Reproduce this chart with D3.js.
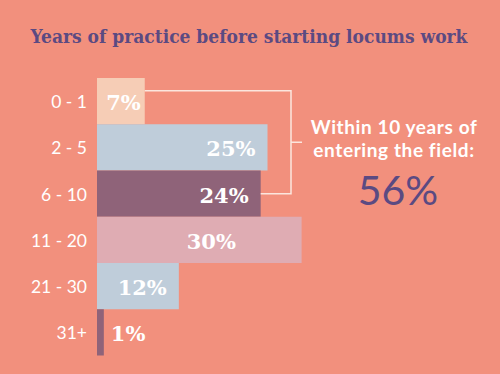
<!DOCTYPE html>
<html>
<head>
<meta charset="utf-8">
<script src="https://cdn.jsdelivr.net/npm/d3@7"></script>
<style>
  html, body { margin: 0; padding: 0; background: #F2907D; }
  svg { display: block; }
</style>
</head>
<body>
<svg id="viz" width="500" height="374"></svg>
<script>
// ----- data -----
const categories = ["0 - 1", "2 - 5", "6 - 10", "11 - 20", "21 - 30", "31+"];
const values     = [7, 25, 24, 30, 12, 1];
const barColors  = ["#F6CDB6", "#BFCDDA", "#8F6379", "#DFACB3", "#BFCDDA", "#8F6379"];
const title      = "Years of practice before starting locums work";
const noteLines  = ["Within 10 years of", "entering the field:"];
const noteValue  = "56%";

const svg = d3.select("#viz");
const W = 500, H = 374;

svg.append("rect").attr("width", W).attr("height", H).attr("fill", "#F2907D");

// title: shrink the font until it fits the width used in the reference
const titleText = svg.append("text")
  .attr("x", 249).attr("y", 43)
  .attr("text-anchor", "middle")
  .attr("font-family", "'DejaVu Serif Condensed', 'DejaVu Serif', serif")
  .attr("font-weight", "bold")
  .attr("fill", "#5B4A82")
  .text(title);
let fs = 21;
titleText.attr("font-size", fs);
while (titleText.node().getComputedTextLength() > 440 && fs > 12) {
  fs -= 0.5;
  titleText.attr("font-size", fs);
}

// scales
const left = 97;
const x = d3.scaleLinear().domain([0, 25]).range([left, left + 170.5]);
const y = d3.scaleBand().domain(categories).range([78, 355.5]).padding(0);

const data = categories.map((c, i) => ({ cat: c, value: values[i], color: barColors[i] }));

const g = svg.append("g");

g.selectAll("rect.bar")
  .data(data)
  .join("rect")
  .attr("class", "bar")
  .attr("x", x(0))
  .attr("y", d => y(d.cat))
  .attr("width", d => x(d.value) - x(0))
  .attr("height", y.bandwidth())
  .attr("fill", d => d.color);

// category labels
g.selectAll("text.cat")
  .data(data)
  .join("text")
  .attr("class", "cat")
  .attr("x", 87)
  .attr("y", d => y(d.cat) + y.bandwidth() / 2 + 7)
  .attr("text-anchor", "end")
  .attr("font-family", "Lato")
  .attr("font-size", 17.5)
  .attr("fill", "#fff")
  .text(d => d.cat);

// value labels
const maxV = d3.max(values);
function labelPos(d) {
  const end = x(d.value);
  if (d.value === maxV) return { x: (x(0) + end) / 2 + 12, anchor: "middle" };
  if (d.value < 3) return { x: end + 7, anchor: "start" };
  if (d.value < 10) return { x: end - 4, anchor: "end" };
  return { x: end - 12, anchor: "end" };
}
g.selectAll("text.val")
  .data(data)
  .join("text")
  .attr("class", "val")
  .attr("x", d => labelPos(d).x)
  .attr("y", d => y(d.cat) + y.bandwidth() / 2 + 9)
  .attr("text-anchor", d => labelPos(d).anchor)
  .attr("font-family", "DejaVu Serif")
  .attr("font-weight", "bold")
  .attr("font-size", 21)
  .attr("fill", "#fff")
  .text(d => d.value + "%");

// bracket spanning the first three rows
const bx = 291;
const topY = y(categories[0]) + 12.7;
const botY = y(categories[2]) + y.bandwidth() / 2;
const midY = (topY + botY) / 2;
svg.append("path")
  .attr("d", `M${x(values[0])},${topY} H${bx} V${botY} H${x(values[2])} M${bx},${midY} H${bx + 11}`)
  .attr("fill", "none")
  .attr("stroke", "#FBE6DE")
  .attr("stroke-width", 1.5);

// note
svg.selectAll("text.note")
  .data(noteLines)
  .join("text")
  .attr("class", "note")
  .attr("x", 394)
  .attr("y", (d, i) => 133.5 + i * 23.5)
  .attr("text-anchor", "middle")
  .attr("font-family", "Lato")
  .attr("font-weight", "bold")
  .attr("font-size", 19)
  .attr("letter-spacing", 0.6)
  .attr("fill", "#fff")
  .text(d => d);

svg.append("text")
  .attr("x", 398).attr("y", 205)
  .attr("text-anchor", "middle")
  .attr("font-family", "Lato")
  .attr("font-size", 41)
  .attr("fill", "#5B4A82")
  .text(noteValue);
</script>
</body>
</html>
